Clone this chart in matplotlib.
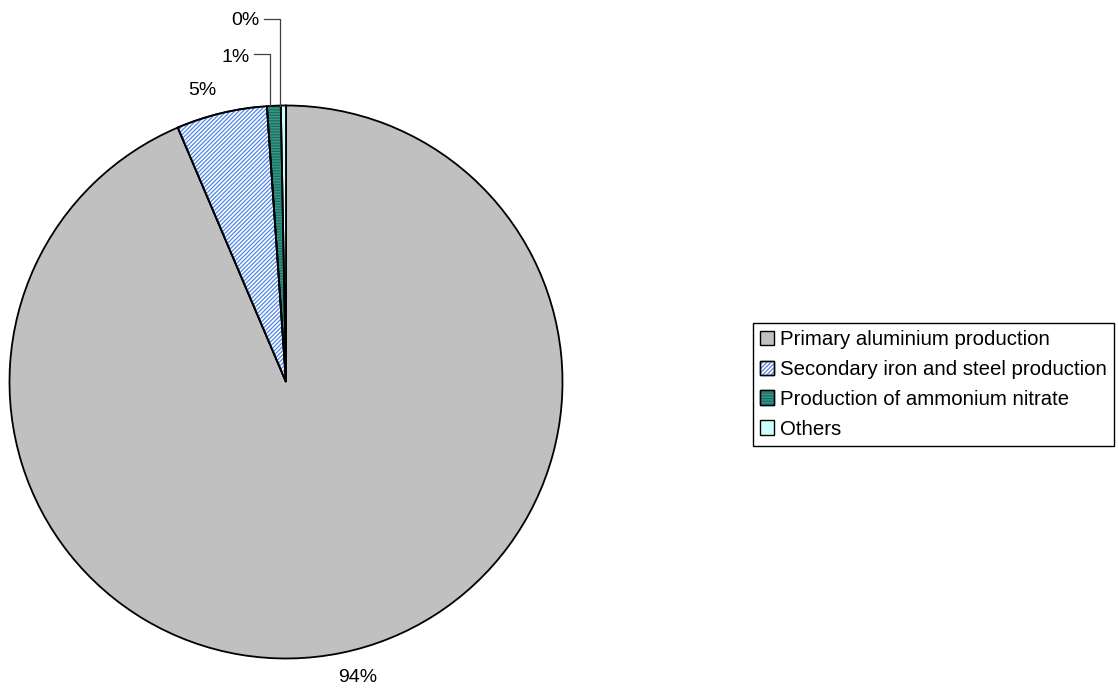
import matplotlib.pyplot as plt
from matplotlib.patches import Wedge, Patch
from matplotlib.legend_handler import HandlerTuple

plt.rcParams['font.family'] = ['Liberation Sans', 'DejaVu Sans']
plt.rcParams['hatch.linewidth'] = 0.9

categories = ['Primary aluminium production', 'Secondary iron and steel production',
              'Production of ammonium nitrate', 'Others']
shares = [93.6, 5.3, 0.8, 0.3]
pct_labels = ['94%', '5%', '1%', '0%']

face_colors = ['#C0C0C0', '#FFFFFF', '#339988', '#CCFFFF']
hatches = [None, '////////', '------', None]
hatch_colors = [None, '#4F86E8', '#206A62', None]

W, H = 1118, 689
fig = plt.figure(figsize=(W / 100, H / 100), dpi=100)
cx, cy, r = 286, 382, 276.5
ax = fig.add_axes([(cx - r) / W, (H - cy - r) / H, 2 * r / W, 2 * r / H])

wedges, _ = ax.pie(shares, colors=face_colors, startangle=90, counterclock=False,
                   radius=1, wedgeprops=dict(edgecolor='black', linewidth=1.3))

# hatch overlays (hatch colour follows edgecolor, so draw separately)
for w, h, hc in zip(wedges, hatches, hatch_colors):
    if h is None:
        continue
    ov = Wedge(w.center, w.r, w.theta1, w.theta2, facecolor='none',
               edgecolor=hc, hatch=h, linewidth=0, zorder=w.get_zorder() + 0.1)
    ax.add_patch(ov)
    # redraw outline on top
    ax.add_patch(Wedge(w.center, w.r, w.theta1, w.theta2, facecolor='none',
                       edgecolor='black', linewidth=1.3, zorder=w.get_zorder() + 0.2))

ax.set_xlim(-1, 1)
ax.set_ylim(-1, 1)
ax.set_aspect('equal')
ax.axis('off')

fs = 14
# data labels
ax.text(0.26, -1.067, pct_labels[0], ha='center', va='center', fontsize=fs, clip_on=False)
ax.text(-0.302, 1.056, pct_labels[1], ha='center', va='center', fontsize=fs, clip_on=False)
ax.text(-0.183, 1.175, pct_labels[2], ha='center', va='center', fontsize=fs, clip_on=False)
ax.text(-0.146, 1.309, pct_labels[3], ha='center', va='center', fontsize=fs, clip_on=False)

# leader lines for the small slices
ax.plot([-0.116, -0.058, -0.058], [1.186, 1.186, 0.998], color='#404040', lw=0.9, clip_on=False)
ax.plot([-0.080, -0.022, -0.022], [1.313, 1.313, 0.999], color='#404040', lw=0.9, clip_on=False)

# legend
handles = []
for fc, h, hc in zip(face_colors, hatches, hatch_colors):
    base = Patch(facecolor=fc, edgecolor='black', linewidth=1.0)
    if h is None:
        handles.append(base)
    else:
        handles.append((base, Patch(facecolor='none', edgecolor=hc, hatch=h, linewidth=0),
                        Patch(facecolor='none', edgecolor='black', linewidth=1.0)))

leg = fig.legend(handles, categories, loc='upper left',
                 bbox_to_anchor=(753 / W, 1 - 323 / H), bbox_transform=fig.transFigure,
                 fontsize=14.7, frameon=True, fancybox=False, framealpha=1,
                 edgecolor='black', borderpad=0.35, labelspacing=0.53,
                 handlelength=0.7, handleheight=0.7, handletextpad=0.25,
                 borderaxespad=0, handler_map={tuple: HandlerTuple(ndivide=1, pad=0)})
leg.get_frame().set_linewidth(1.0)

fig.savefig('out.png', dpi=100)
